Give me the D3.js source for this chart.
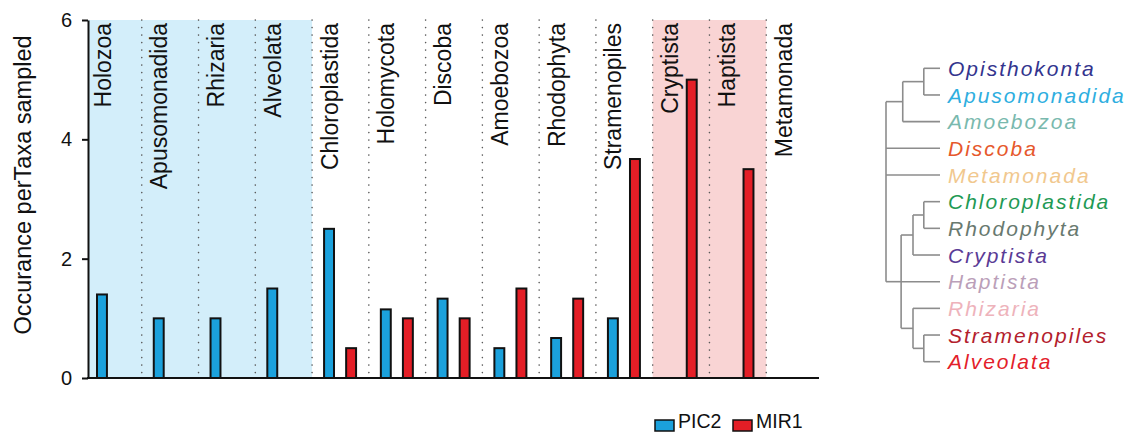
<!DOCTYPE html>
<html>
<head>
<meta charset="utf-8">
<script src="https://cdn.jsdelivr.net/npm/d3@7"></script>
<style>
  body { margin: 0; background: #fff; }
  svg { display: block; font-family: "Liberation Sans", Arial, Helvetica, sans-serif; }
</style>
</head>
<body>
<svg width="1135" height="434"></svg>
<script>
// categories along the x axis
const categories = ["Holozoa", "Apusomonadida", "Rhizaria", "Alveolata", "Chloroplastida", "Holomycota",
  "Discoba", "Amoebozoa", "Rhodophyta", "Stramenopiles", "Cryptista", "Haptista", "Metamonada"];
const series = ["PIC2", "MIR1"];
const pic2 = [1.4, 1.0, 1.0, 1.5, 2.5, 1.15, 1.33, 0.5, 0.67, 1.0, 0, 0, 0];
const mir1 = [0, 0, 0, 0, 0.5, 1.0, 1.0, 1.5, 1.33, 3.67, 5.0, 3.5, 0];
const yTicks = [0, 2, 4, 6];

// shaded groups
const blueGroup = ["Holozoa", "Apusomonadida", "Rhizaria", "Alveolata"];
const pinkGroup = ["Cryptista", "Haptista"];

// tree: [id, parent, branch length]
const treeRows = [
  ["root", "", 0],
  ["n1", "root", 0.31],
  ["n2", "n1", 0.39],
  ["Opisthokonta", "n2", 0.3],
  ["Apusomonadida", "n2", 0.3],
  ["Amoebozoa", "n1", 0.69],
  ["Discoba", "root", 1],
  ["Metamonada", "root", 1],
  ["n3", "root", 0.28],
  ["n4", "n3", 0.22],
  ["n5", "n4", 0.2],
  ["Chloroplastida", "n5", 0.3],
  ["Rhodophyta", "n5", 0.3],
  ["Cryptista", "n4", 0.5],
  ["Haptista", "n3", 0.72],
  ["n6", "n3", 0.22],
  ["Rhizaria", "n6", 0.5],
  ["n7", "n6", 0.2],
  ["Stramenopiles", "n7", 0.3],
  ["Alveolata", "n7", 0.3]
];
const leafColors = {
  Opisthokonta: "#33348e", Apusomonadida: "#2eaee0", Amoebozoa: "#79b9ae", Discoba: "#e6582c",
  Metamonada: "#f1c88e", Chloroplastida: "#1f9a55", Rhodophyta: "#68796f", Cryptista: "#5a3b95",
  Haptista: "#bb9fb9", Rhizaria: "#eeb3bb", Stramenopiles: "#b3202c", Alveolata: "#e3202a"
};

const colors = { PIC2: "#1ba1dc", MIR1: "#e41e26" };

const svg = d3.select("svg");

const x = d3.scaleBand().domain(categories).range([85, 823]).paddingInner(0).paddingOuter(0);
const x1 = d3.scaleBand().domain(series).range([12, 44]).paddingInner(0.55);
const y = d3.scaleLinear().domain([0, 6]).range([378, 20]);
const axisX = 88;

// background shading
function shade(group, fill) {
  const x0 = Math.max(axisX, x(group[0]));
  const xEnd = x(group[group.length - 1]) + x.bandwidth();
  svg.append("rect")
    .attr("x", x0).attr("y", y(6))
    .attr("width", xEnd - x0).attr("height", y(0) - y(6))
    .attr("fill", fill);
}
shade(blueGroup, "#d3eefa");
shade(pinkGroup, "#f9d4d4");

// dotted separators
svg.append("g").selectAll("line")
  .data(categories.slice(1))
  .join("line")
    .attr("x1", d => x(d)).attr("x2", d => x(d))
    .attr("y1", y(6)).attr("y2", y(0))
    .attr("stroke", "#5a5a5a")
    .attr("stroke-width", 1.6)
    .attr("stroke-linecap", "round")
    .attr("stroke-dasharray", "0.1,7.4");

// bars
const barData = [];
categories.forEach((c, i) => {
  barData.push({ cat: c, s: "PIC2", v: pic2[i] });
  barData.push({ cat: c, s: "MIR1", v: mir1[i] });
});
svg.append("g").selectAll("rect")
  .data(barData.filter(d => d.v > 0))
  .join("rect")
    .attr("x", d => x(d.cat) + x1(d.s))
    .attr("y", d => y(d.v))
    .attr("width", x1.bandwidth())
    .attr("height", d => y(0) - y(d.v))
    .attr("fill", d => colors[d.s])
    .attr("stroke", "#111")
    .attr("stroke-width", 2);

// category labels (rotated)
svg.append("g").selectAll("text")
  .data(categories)
  .join("text")
    .attr("transform", d => "translate(" + (x(d) + 25.5) + ",23) rotate(-90)")
    .attr("text-anchor", "end")
    .attr("font-size", 23)
    .attr("fill", "#111")
    .text(d => d);

// axes
const yAxis = svg.append("g")
  .attr("transform", "translate(" + axisX + ",0)")
  .call(d3.axisLeft(y).tickValues(yTicks).tickFormat(d3.format("d"))
    .tickSize(6).tickSizeOuter(0).tickPadding(10));
yAxis.select(".domain").attr("stroke", "#111").attr("stroke-width", 2);
yAxis.selectAll(".tick line").attr("stroke", "#111").attr("stroke-width", 2);
yAxis.selectAll(".tick text").attr("font-size", 20).attr("fill", "#111")
  .attr("font-family", "Liberation Sans, Arial, sans-serif");

svg.append("line")
  .attr("x1", axisX - 1).attr("x2", 819)
  .attr("y1", y(0)).attr("y2", y(0))
  .attr("stroke", "#111").attr("stroke-width", 2);

svg.append("text")
  .attr("transform", "translate(31,185) rotate(-90)")
  .attr("text-anchor", "middle")
  .attr("font-size", 23.5)
  .attr("fill", "#111")
  .text("Occurance perTaxa sampled");

// legend
const legend = svg.append("g").attr("transform", "translate(655,0)");
const lg = legend.selectAll("g")
  .data(series)
  .join("g")
    .attr("transform", (d, i) => "translate(" + (i * 78) + ",0)");
lg.append("rect")
  .attr("x", 0).attr("y", 420).attr("width", 19).attr("height", 11)
  .attr("fill", d => colors[d]).attr("stroke", "#111").attr("stroke-width", 1.5);
lg.append("text")
  .attr("x", 23).attr("y", 428)
  .attr("font-size", 19.5).attr("fill", "#111")
  .text(d => d);

// tree
const root = d3.stratify()
  .id(d => d[0])
  .parentId(d => d[1] || null)(treeRows);
const leaves = root.leaves().map(d => d.id);
const ty = d3.scalePoint().domain(leaves).range([68.3, 361.7]);
const tx = d3.scaleLinear().domain([0, 1]).range([886, 940]);

root.eachBefore(n => { n.dist = n.parent ? n.parent.dist + n.data[2] : 0; });
root.eachAfter(n => {
  if (n.children) {
    n.py = (n.children[0].py + n.children[n.children.length - 1].py) / 2;
  } else {
    n.py = ty(n.id);
  }
});

const tree = svg.append("g")
  .attr("stroke", "#8c8c8c").attr("stroke-width", 1.6).attr("fill", "none");
root.descendants().forEach(n => {
  if (n.parent) {
    tree.append("line")
      .attr("x1", tx(n.parent.dist)).attr("x2", tx(n.dist))
      .attr("y1", n.py).attr("y2", n.py);
  }
  if (n.children) {
    tree.append("line")
      .attr("x1", tx(n.dist)).attr("x2", tx(n.dist))
      .attr("y1", n.children[0].py).attr("y2", n.children[n.children.length - 1].py);
  }
});

svg.append("g").selectAll("text")
  .data(root.leaves())
  .join("text")
    .attr("x", 948)
    .attr("y", d => d.py)
    .attr("dy", "0.36em")
    .attr("font-size", 21)
    .attr("font-style", "italic")
    .attr("letter-spacing", 2)
    .attr("fill", d => leafColors[d.id])
    .text(d => d.id);
</script>
</body>
</html>
